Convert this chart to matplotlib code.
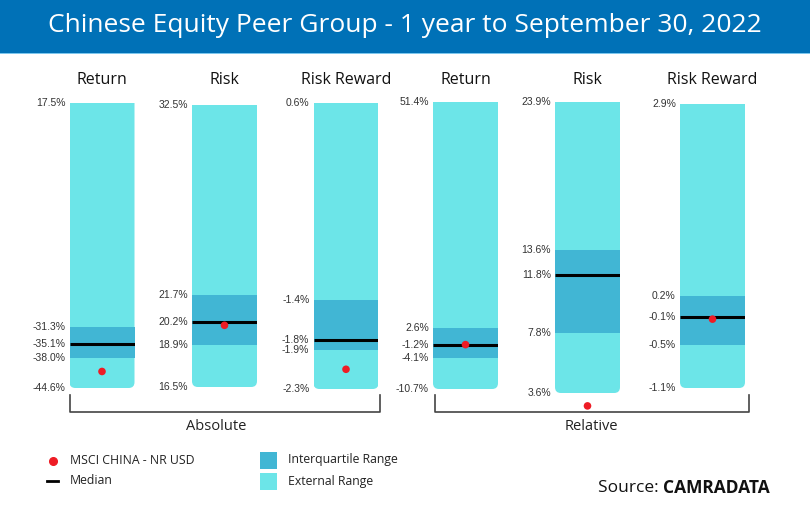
import matplotlib
matplotlib.use("Agg")
import matplotlib.pyplot as plt
from matplotlib.patches import FancyBboxPatch, Rectangle
from matplotlib.lines import Line2D

# ---- data ----
panel_titles = ["Return", "Risk", "Risk Reward", "Return", "Risk", "Risk Reward"]
range_high = [17.5, 32.5, 0.6, 51.4, 23.9, 2.9]
q_upper = [-31.3, 21.7, -1.4, 2.6, 13.6, 0.2]
median = [-35.1, 20.2, -1.8, -1.2, 11.8, -0.1]
q_lower = [-38.0, 18.9, -1.9, -4.1, 7.8, -0.5]
range_low = [-44.6, 16.5, -2.3, -10.7, 3.6, -1.1]
msci = [-41.0, 20.0, -2.1, -1.1, 2.7, -0.13]
groups = ["Absolute", "Relative"]

EXT = "#6ce5e8"
IQR = "#41b6d4"
RED = "#ee1c25"
BLUE = "#0071b7"

W, H = 810, 505
fig = plt.figure(figsize=(W / 100, H / 100), dpi=100)

def fx(x):
    return x / W

def fy(y):
    return 1 - y / H

# banner
fig.patches.append(Rectangle((0, fy(53)), 1, 53 / H, transform=fig.transFigure,
                             facecolor=BLUE, edgecolor="none"))
fig.patches.append(Rectangle((0, fy(54)), 1, 1.5 / H, transform=fig.transFigure,
                             facecolor="#7cc7ee", edgecolor="none"))
fig.text(0.5, fy(26), "Chinese Equity Peer Group - 1 year to September 30, 2022",
         ha="center", va="center", color="white", fontsize=19, family="Open Sans")

centers = [102, 224.5, 346, 465.5, 587.5, 712.5]
bar_w = 65
tops = [103, 105, 103, 102, 102, 104]
bottoms = [388, 387, 389, 389, 393, 388]

for i in range(6):
    c = centers[i]
    ax = fig.add_axes([fx(c - bar_w / 2), fy(bottoms[i]), bar_w / W,
                       (bottoms[i] - tops[i]) / H])
    ax.set_xlim(-0.5, 0.5)
    ax.set_ylim(range_low[i], range_high[i])
    ax.axis("off")
    ext = ax.bar(0, range_high[i] - range_low[i], bottom=range_low[i], width=1.0,
                 color=EXT, edgecolor="none")[0]
    hpx = bottoms[i] - tops[i]
    clip = FancyBboxPatch((0, -0.0), 1, 1.3, boxstyle="round,pad=0,rounding_size=0.09",
                          mutation_aspect=bar_w / hpx, transform=ax.transAxes,
                          facecolor="none", edgecolor="none")
    ax.add_patch(clip)
    ext.set_clip_path(clip)
    ax.bar(0, q_upper[i] - q_lower[i], bottom=q_lower[i], width=1.0,
           color=IQR, edgecolor="none")
    ax.hlines(median[i], -0.5, 0.5, color="black", lw=2.2)
    ax.scatter([0], [msci[i]], s=30, color=RED, zorder=5, clip_on=False,
               edgecolors="none")
    for v in [range_high[i], q_upper[i], median[i], q_lower[i], range_low[i]]:
        ax.annotate(f"{v:.1f}%", xy=(0, v), xycoords=("axes fraction", "data"),
                    xytext=(-3, 0), textcoords="offset points", ha="right", va="center",
                    fontsize=7.5, color="#333333", family="Liberation Sans")
    fig.text(fx(c), fy(80), panel_titles[i], ha="center", va="center",
             fontsize=11.5, color="#111111", family="Open Sans")

# brackets
for (x0, x1, lab, lx) in [(70, 380, groups[0], 216), (435, 749, groups[1], 591)]:
    fig.lines.append(Line2D([fx(x0), fx(x0), fx(x1), fx(x1)],
                            [fy(395), fy(412), fy(412), fy(395)],
                            transform=fig.transFigure, color="#444444", lw=1.2))
    fig.text(fx(lx), fy(426), lab, ha="center", va="center", fontsize=10.5,
             color="#222222", family="Open Sans")

# legend
fig.lines.append(Line2D([fx(53)], [fy(461)], marker="o", ms=5.5, color=RED,
                        transform=fig.transFigure, ls="none"))
fig.text(fx(70), fy(460), "MSCI CHINA - NR USD", ha="left", va="center",
         fontsize=8.8, color="#222222", family="Open Sans")
fig.lines.append(Line2D([fx(47), fx(58)], [fy(481), fy(481)], color="black", lw=2,
                        transform=fig.transFigure))
fig.text(fx(70), fy(481), "Median", ha="left", va="center",
         fontsize=8.8, color="#222222", family="Open Sans")
fig.patches.append(Rectangle((fx(260), fy(469)), 17 / W, 17 / H, transform=fig.transFigure,
                             facecolor=IQR, edgecolor="none"))
fig.text(fx(288), fy(460), "Interquartile Range", ha="left", va="center",
         fontsize=8.8, color="#222222", family="Open Sans")
fig.patches.append(Rectangle((fx(260), fy(490)), 17 / W, 17 / H, transform=fig.transFigure,
                             facecolor=EXT, edgecolor="none"))
fig.text(fx(288), fy(481), "External Range", ha="left", va="center",
         fontsize=8.8, color="#222222", family="Open Sans")

t = fig.text(fx(598), fy(488), "Source: ", ha="left", va="center", fontsize=12.5,
             color="#111111", family="Open Sans")
fig.canvas.draw()
bb = t.get_window_extent()
fig.text(bb.x1 / W, fy(488), "CAMRADATA", ha="left", va="center", fontsize=12.5,
         color="#111111", family="Open Sans", fontweight="bold")

fig.savefig("out.png", dpi=100)
